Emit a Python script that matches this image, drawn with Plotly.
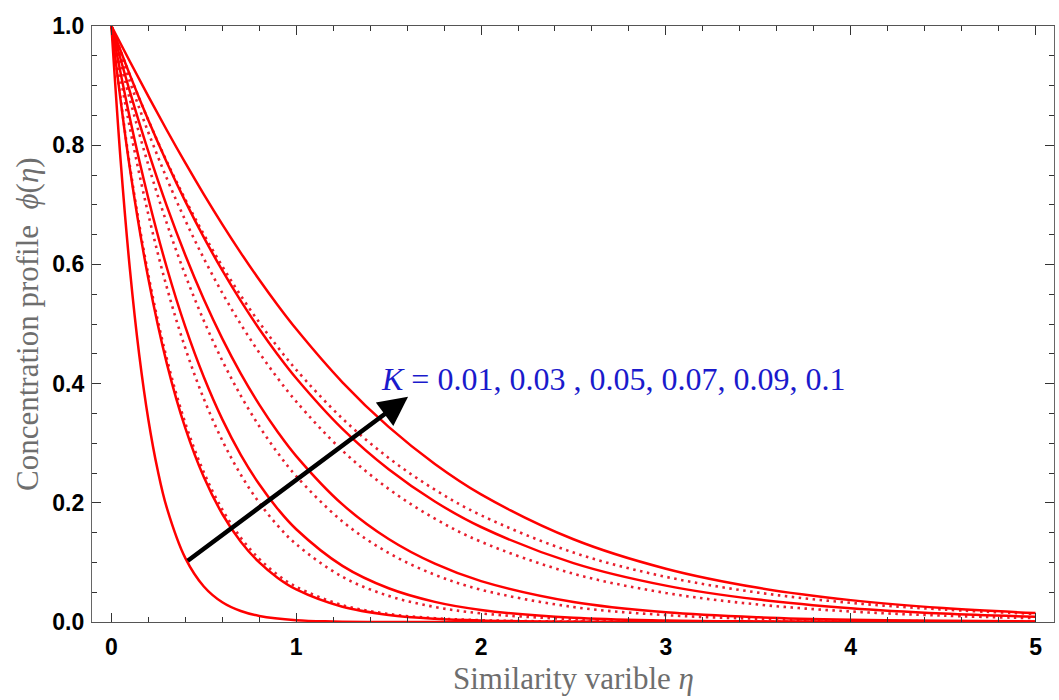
import plotly.graph_objects as go

# ---- data ----
eta = [0, 0.1, 0.2, 0.3, 0.4, 0.5, 0.6, 0.7, 0.8, 0.9, 1.0, 1.25, 1.5, 1.75,
       2.0, 2.5, 3.0, 3.5, 4.0, 4.5, 5.0]
eta_k1 = [0, 0.05, 0.1, 0.15, 0.2, 0.25, 0.3, 0.4, 0.5, 0.6, 0.7, 0.8, 1.0,
          1.2, 1.5, 2.0, 3.0, 4.0, 5.0]

solid_k1 = [1, 0.7736, 0.592, 0.4495, 0.3394, 0.2553, 0.1914, 0.1071, 0.0596,
            0.0331, 0.0184, 0.0102, 0.0031, 0.001, 0.0001, 0, 0, 0, 0]
solid_k2 = [1, 0.7609, 0.5758, 0.4336, 0.3252, 0.2431, 0.1812, 0.1347, 0.0999,
            0.0740, 0.0547, 0.0256, 0.0119, 0.0055, 0.0026, 0.0005, 0.0001, 0, 0, 0, 0]
solid_k3 = [1, 0.8453, 0.7106, 0.5944, 0.4951, 0.4110, 0.3400, 0.2806, 0.2310,
            0.1897, 0.1556, 0.0942, 0.0566, 0.0338, 0.0202, 0.0071, 0.0025, 0.0009,
            0.0003, 0.0001, 0]
solid_k4 = [1, 0.8898, 0.7891, 0.6977, 0.6153, 0.5414, 0.4755, 0.4168, 0.3648,
            0.3189, 0.2784, 0.1973, 0.1392, 0.0978, 0.0686, 0.0335, 0.0163, 0.0079,
            0.0038, 0.0019, 0.0009]
solid_k5 = [1, 0.9180, 0.8418, 0.7711, 0.7058, 0.6454, 0.5898, 0.5387, 0.4917,
            0.4485, 0.4090, 0.3240, 0.2562, 0.2022, 0.1594, 0.0988, 0.0610, 0.0377,
            0.0232, 0.0143, 0.0088]
solid_k6 = [1, 0.9404, 0.8820, 0.8251, 0.7702, 0.7175, 0.6672, 0.6194, 0.5742,
            0.5315, 0.4915, 0.4022, 0.3273, 0.2652, 0.2142, 0.1388, 0.0894, 0.0573,
            0.0367, 0.0234, 0.0150]

dotted_k2 = [1, 0.7651, 0.5824, 0.4416, 0.3336, 0.2513, 0.1888, 0.1415, 0.1059,
             0.0791, 0.0590, 0.0283, 0.0135, 0.0064, 0.0030, 0.0007, 0.0002, 0, 0, 0, 0]
dotted_k3 = [1, 0.8289, 0.6836, 0.5613, 0.4593, 0.3745, 0.3046, 0.2471, 0.2000,
             0.1616, 0.1304, 0.0758, 0.0438, 0.0252, 0.0145, 0.0047, 0.0015, 0.0005,
             0.0002, 0.0001, 0]
dotted_k4 = [1, 0.8768, 0.7666, 0.6687, 0.5820, 0.5056, 0.4385, 0.3797, 0.3284,
             0.2837, 0.2448, 0.1687, 0.1158, 0.0793, 0.0541, 0.0251, 0.0116, 0.0054,
             0.0025, 0.0011, 0.0005]
dotted_k5 = [1, 0.9065, 0.8214, 0.7441, 0.6738, 0.6100, 0.5521, 0.4996, 0.4520,
             0.4089, 0.3699, 0.2875, 0.2234, 0.1734, 0.1346, 0.0810, 0.0487, 0.0293,
             0.0176, 0.0106, 0.0064]
dotted_k6 = [1, 0.9176, 0.8420, 0.7726, 0.7089, 0.6505, 0.5969, 0.5477, 0.5026,
             0.4612, 0.4232, 0.3413, 0.2753, 0.2220, 0.1791, 0.1165, 0.0758, 0.0493,
             0.0321, 0.0209, 0.0136]

x_ticks = [0, 1, 2, 3, 4, 5]
y_ticks = [0.0, 0.2, 0.4, 0.6, 0.8, 1.0]
arrow_start = (0.405, 0.101)
arrow_end = (1.605, 0.378)
label_text = "<i>K</i> = 0.01, 0.03 , 0.05, 0.07, 0.09, 0.1"

RED = "#ff0000"
DOT_RED = "#e8202f"

fig = go.Figure()

for ys in [dotted_k2, dotted_k3, dotted_k4, dotted_k5, dotted_k6]:
    fig.add_trace(go.Scatter(x=eta, y=ys, mode="lines",
                             line=dict(color=DOT_RED, width=2.6, dash="2.5px,4.5px", shape="spline"),
                             hoverinfo="skip", showlegend=False))

fig.add_trace(go.Scatter(x=eta_k1, y=solid_k1, mode="lines",
                         line=dict(color=RED, width=2.5, shape="spline"),
                         showlegend=False))
for ys in [solid_k2, solid_k3, solid_k4, solid_k5, solid_k6]:
    fig.add_trace(go.Scatter(x=eta, y=ys, mode="lines",
                             line=dict(color=RED, width=2.5, shape="spline"),
                             showlegend=False))

tickfont = dict(family="Liberation Sans, Arial, sans-serif", size=23, color="black", weight="bold")

fig.update_xaxes(range=[-0.105, 5.1], tickvals=x_ticks, ticktext=[str(v) for v in x_ticks],
                 ticks="inside", ticklen=9, tickwidth=1.2, tickcolor="#333",
                 minor=dict(dtick=0.2, tick0=0, ticks="inside", ticklen=5, tickcolor="#333"),
                 showline=True, linecolor="#555", linewidth=1.2, mirror="allticks",
                 showgrid=False, zeroline=False, tickfont=tickfont, ticklabelstandoff=4)
fig.update_yaxes(range=[0, 1], tickvals=y_ticks, ticktext=[f"{v:.1f}" for v in y_ticks],
                 ticks="inside", ticklen=9, tickwidth=1.2, tickcolor="#333",
                 minor=dict(dtick=0.05, tick0=0, ticks="inside", ticklen=5, tickcolor="#333"),
                 showline=True, linecolor="#666", linewidth=1.2, mirror="allticks",
                 showgrid=False, zeroline=False, tickfont=tickfont, ticklabelstandoff=2)

serif = "Liberation Serif, Times New Roman, serif"
fig.add_annotation(x=arrow_end[0], y=arrow_end[1], ax=arrow_start[0], ay=arrow_start[1],
                   xref="x", yref="y", axref="x", ayref="y", text="",
                   showarrow=True, arrowhead=2, arrowsize=1.3, arrowwidth=4.5, arrowcolor="black")
fig.add_annotation(x=1.45, y=0.407, xref="x", yref="y", text=label_text, showarrow=False,
                   xanchor="left", yanchor="middle",
                   font=dict(family=serif, size=32, color="#1a1acc"))
fig.add_annotation(x=0.5, y=-0.1275, xref="paper", yref="paper",
                   text="Similarity varible <i>η</i>", showarrow=False,
                   xanchor="center", yanchor="bottom",
                   font=dict(family=serif, size=31, color="#6e6e6e"))
fig.add_annotation(x=-0.0676, y=0.5, xref="paper", yref="paper",
                   text="Concentration profile  <i>ϕ</i>(<i>η</i>)", showarrow=False,
                   textangle=-90, xanchor="center", yanchor="middle",
                   font=dict(family=serif, size=31, color="#6e6e6e"))

fig.update_layout(width=1059, height=700, margin=dict(l=92, r=5, t=26, b=78),
                  paper_bgcolor="white", plot_bgcolor="white")

fig.write_html("out.html")
